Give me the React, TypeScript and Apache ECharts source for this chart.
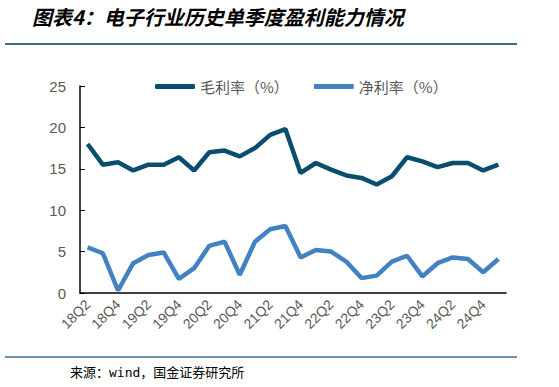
import React, { useEffect, useRef } from "react";
import * as echarts from "echarts";

const categories = [
  "18Q2", "18Q3", "18Q4", "19Q1", "19Q2", "19Q3", "19Q4", "20Q1", "20Q2", "20Q3",
  "20Q4", "21Q1", "21Q2", "21Q3", "21Q4", "22Q1", "22Q2", "22Q3", "22Q4", "23Q1",
  "23Q2", "23Q3", "23Q4", "24Q1", "24Q2", "24Q3", "24Q4", "25Q1",
];
const grossMargin = [
  18.0, 15.5, 15.8, 14.8, 15.5, 15.5, 16.4, 14.8, 17.0, 17.2,
  16.5, 17.5, 19.1, 19.8, 14.5, 15.7, 14.9, 14.2, 13.9, 13.1,
  14.1, 16.4, 15.9, 15.2, 15.7, 15.7, 14.8, 15.5,
];
const netMargin = [
  5.5, 4.8, 0.3, 3.6, 4.6, 4.9, 1.7, 3.0, 5.7, 6.2,
  2.2, 6.2, 7.7, 8.1, 4.3, 5.2, 5.0, 3.8, 1.8, 2.1,
  3.8, 4.5, 2.0, 3.6, 4.3, 4.1, 2.5, 4.1,
];
const seriesNames = ["毛利率（%）", "净利率（%）"];
const yTicks = [0, 5, 10, 15, 20, 25];
const titleText = "图表4：电子行业历史单季度盈利能力情况";
const sourceText = "来源：wind，国金证券研究所";

export default function App() {
  const ref = useRef<HTMLDivElement>(null);
  useEffect(() => {
    document.body.style.margin = "0";
    if (!ref.current) return;
    const chart = echarts.init(ref.current, undefined, { renderer: "svg" });
    chart.setOption({
      animation: false,
      backgroundColor: "#ffffff",
      textStyle: { fontFamily: "Arial, 'Liberation Sans', 'Noto Sans CJK SC', sans-serif" },
      graphic: [
        {
          type: "text",
          left: 32,
          top: 6,
          style: {
            text: titleText,
            fontSize: 20,
            fontWeight: "bold",
            fontStyle: "italic",
            fontFamily: "'Noto Sans CJK SC', sans-serif",
            fill: "#000000",
          },
        },
        {
          type: "line",
          shape: { x1: 5, y1: 44, x2: 517, y2: 44 },
          style: { stroke: "#3b6f8f", lineWidth: 2 },
        },
        {
          type: "line",
          shape: { x1: 5, y1: 357, x2: 517, y2: 357 },
          style: { stroke: "#3b6f8f", lineWidth: 1.5 },
        },
        {
          type: "text",
          left: 70,
          top: 366,
          style: {
            text: sourceText,
            fontSize: 13,
            fontFamily: "'DejaVu Sans Mono', 'Noto Sans CJK SC', monospace",
            fill: "#000000",
          },
        },
      ],
      legend: {
        top: 74,
        left: 150,
        itemWidth: 40,
        itemHeight: 5,
        itemGap: 25,
        icon: "roundRect",
        textStyle: { fontSize: 15, color: "#595959", fontFamily: "'Noto Sans CJK SC', sans-serif" },
        data: seriesNames,
      },
      grid: { left: 80, right: 53, top: 86, bottom: 94 },
      xAxis: {
        type: "category",
        data: categories,
        boundaryGap: true,
        axisLine: { lineStyle: { color: "#000000", width: 1.5 } },
        axisTick: { inside: true, length: 4, lineStyle: { color: "#000000" }, interval: 0 },
        axisLabel: {
          interval: 1,
          rotate: 45,
          fontSize: 14,
          color: "#595959",
          margin: 9,
        },
      },
      yAxis: {
        type: "value",
        min: 0,
        max: 25,
        interval: 5,
        splitLine: { show: false },
        axisLine: { show: true, lineStyle: { color: "#000000", width: 1.5 } },
        axisTick: { show: true, inside: true, length: 5, lineStyle: { color: "#000000" } },
        axisLabel: {
          fontSize: 15,
          color: "#595959",
          margin: 14,
          formatter: (v: number) => (yTicks.includes(v) ? String(v) : ""),
        },
      },
      series: [
        {
          name: seriesNames[0],
          type: "line",
          data: grossMargin,
          symbol: "none",
          lineStyle: { color: "#0b4d6e", width: 4.5 },
          itemStyle: { color: "#0b4d6e" },
        },
        {
          name: seriesNames[1],
          type: "line",
          data: netMargin,
          symbol: "none",
          lineStyle: { color: "#4282c2", width: 4.5 },
          itemStyle: { color: "#4282c2" },
        },
      ],
    });
    return () => chart.dispose();
  }, []);
  return <div ref={ref} style={{ width: 559, height: 387 }} />;
}
